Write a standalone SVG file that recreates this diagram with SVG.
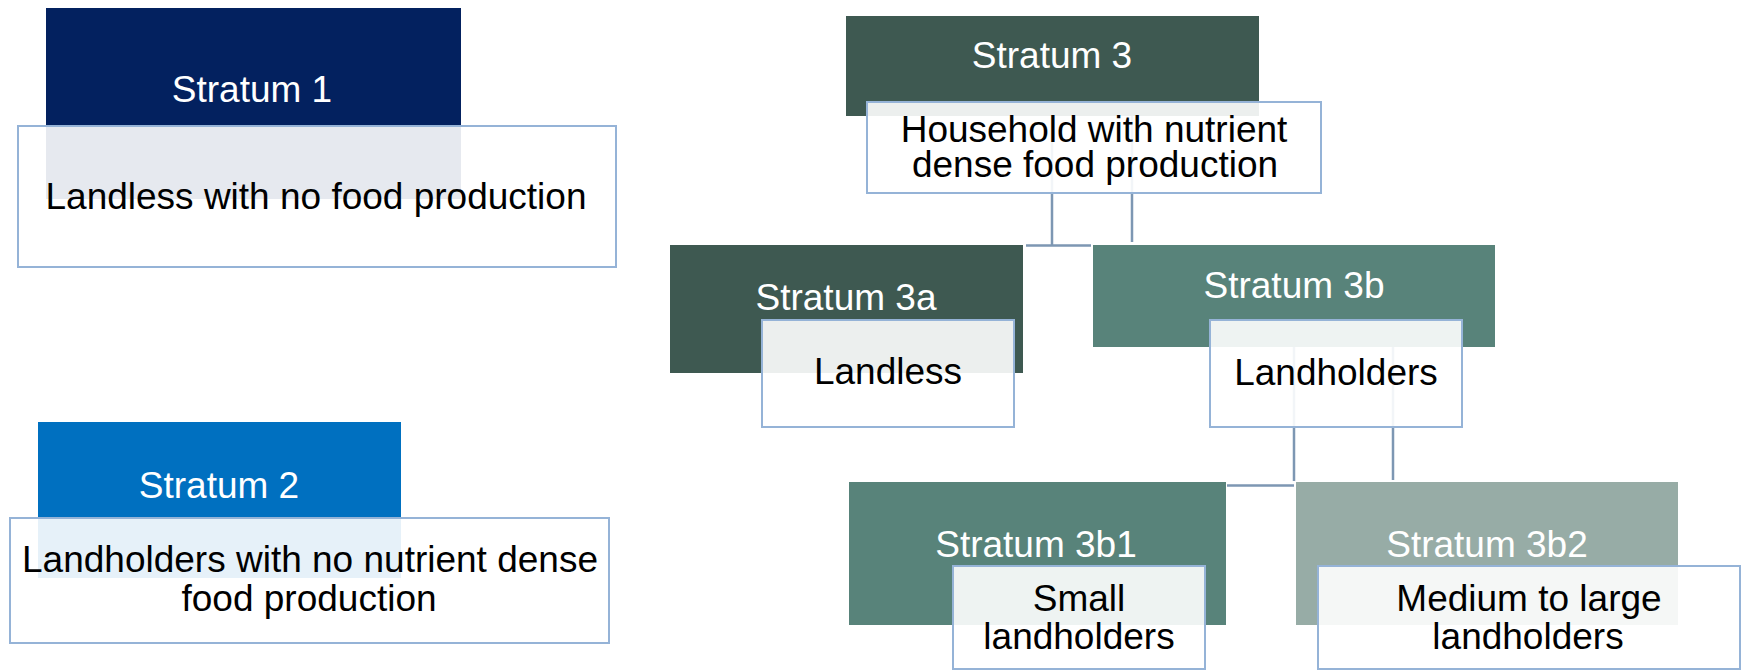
<svg xmlns="http://www.w3.org/2000/svg" width="1746" height="670" viewBox="0 0 1746 670">
<style>
text{font-family:"Liberation Sans",Arial,sans-serif;font-size:37px;text-anchor:middle}
.lbl{fill:#ffffff}
.txt{fill:#000000}
.ov{fill:#ffffff;fill-opacity:0.9;stroke:#95b3d7;stroke-width:2}
.con{stroke:#7d97b3;stroke-width:2.5;fill:none}
</style>
<rect width="1746" height="670" fill="#ffffff"/>
<g id="connectors">
<path class="con" d="M1052,116 V245.5 M1026,245.5 H1091 M1132,116 V242"/>
<path class="con" d="M1294,347 V481 M1227,485.5 H1294 M1393,347 V480"/>
</g>
<g id="stratum1">
<rect x="46" y="8" width="415" height="191" fill="#03215f"/>
<text class="lbl" x="252" y="102">Stratum 1</text>
<rect class="ov" x="18" y="126" width="598" height="141"/>
<text class="txt" x="316" y="209">Landless with no food production</text>
</g>
<g id="stratum2">
<rect x="38" y="422" width="363" height="156" fill="#0070c0"/>
<text class="lbl" x="219" y="498">Stratum 2</text>
<rect class="ov" x="10" y="518" width="599" height="125"/>
<text class="txt" x="310" y="572">Landholders with no nutrient dense</text>
<text class="txt" x="309" y="611">food production</text>
</g>
<g id="stratum3">
<rect x="846" y="16" width="413" height="100" fill="#3e5951"/>
<text class="lbl" x="1052" y="68">Stratum 3</text>
<rect class="ov" x="867" y="102" width="454" height="91"/>
<text class="txt" x="1094" y="142">Household with nutrient</text>
<text class="txt" x="1095" y="177">dense food production</text>
</g>
<g id="stratum3a">
<rect x="670" y="245" width="353" height="128" fill="#3e5951"/>
<text class="lbl" x="846" y="310">Stratum 3a</text>
<rect class="ov" x="762" y="320" width="252" height="107"/>
<text class="txt" x="888" y="384">Landless</text>
</g>
<g id="stratum3b">
<rect x="1093" y="245" width="402" height="102" fill="#58837a"/>
<text class="lbl" x="1294" y="298">Stratum 3b</text>
<rect class="ov" x="1210" y="320" width="252" height="107"/>
<text class="txt" x="1336" y="385">Landholders</text>
</g>
<g id="stratum3b1">
<rect x="849" y="482" width="377" height="143" fill="#58837a"/>
<text class="lbl" x="1036" y="557">Stratum 3b1</text>
<rect class="ov" x="953" y="566" width="252" height="103"/>
<text class="txt" x="1079" y="611">Small</text>
<text class="txt" x="1079" y="649">landholders</text>
</g>
<g id="stratum3b2">
<rect x="1296" y="482" width="382" height="143" fill="#97aca6"/>
<text class="lbl" x="1487" y="557">Stratum 3b2</text>
<rect class="ov" x="1318" y="566" width="422" height="103"/>
<text class="txt" x="1529" y="611">Medium to large</text>
<text class="txt" x="1528" y="649">landholders</text>
</g>
</svg>
